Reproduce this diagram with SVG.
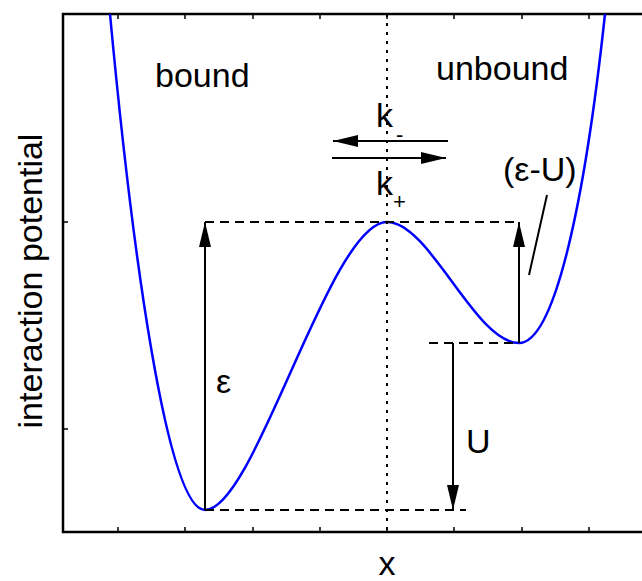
<svg xmlns="http://www.w3.org/2000/svg" width="642" height="581" viewBox="0 0 642 581">
<style>
  .t{font-family:"Liberation Sans",Arial,sans-serif;font-size:34px;fill:#000}
  .s{font-family:"Liberation Sans",Arial,sans-serif;font-size:22px;fill:#000}
  .frame{fill:none;stroke:#000;stroke-width:2.5}
  .tick{stroke:#000;stroke-width:1.5}
  .dash{stroke:#000;stroke-width:2;stroke-dasharray:9,6;fill:none}
  .dot{stroke:#000;stroke-width:2;stroke-dasharray:3,6;fill:none}
  .arr{stroke:#000;stroke-width:2;fill:none}
  .curve{stroke:#0000ff;stroke-width:2.5;fill:none}
</style>
<defs>
  <marker id="ah" viewBox="0 0 25 12" refX="25" refY="6" markerWidth="25" markerHeight="12" markerUnits="userSpaceOnUse" orient="auto">
    <path d="M0,0 L25,6 L0,12 Z" fill="#000"/>
  </marker>
</defs>
<rect width="642" height="581" fill="#fff"/>
<g id="axes">
  <path class="frame" d="M645,14 H63 V532 H645"/>
  <g class="tick">
    <path d="M118,532 v-5 M185,532 v-5 M253,532 v-5 M320,532 v-5 M387,532 v-5 M454,532 v-5 M522,532 v-5 M589,532 v-5"/>
    <path d="M118,14 v5 M185,14 v5 M253,14 v5 M320,14 v5 M387,14 v5 M454,14 v5 M522,14 v5 M589,14 v5"/>
    <path d="M63,222 h5 M63,429 h5"/>
  </g>
  <text class="t" x="387" y="575" text-anchor="middle">x</text>
  <text class="t" transform="translate(42,281) rotate(-90)" text-anchor="middle">interaction potential</text>
</g>
<g id="potential">
  <path class="curve" d="M110,14 C132,250 167,510 205,510 C255,510 330,222 387,222 C430,222 475,343 519,343 C555,343 585,200 605,14"/>
</g>
<g id="connectors">
  <path class="dot" d="M387,14 V532"/>
  <path class="dash" d="M205,222 H519"/>
  <path class="dash" d="M429,343 H519"/>
  <path class="dash" d="M205,510 H466"/>
  <path class="arr" d="M205,510 V222" marker-end="url(#ah)"/>
  <path class="arr" d="M519,343 V222" marker-end="url(#ah)"/>
  <path class="arr" d="M453,343 V510" marker-end="url(#ah)"/>
  <path class="arr" d="M448,141 H333" marker-end="url(#ah)"/>
  <path class="arr" d="M332,158 H446" marker-end="url(#ah)"/>
  <path class="arr" d="M547,195 L529,275"/>
</g>
<g id="labels">
  <text class="t" x="155" y="87">bound</text>
  <text class="t" x="436" y="80">unbound</text>
  <text class="t" x="216" y="393">ε</text>
  <text class="t" x="466" y="453">U</text>
  <text class="t" x="503" y="181">(ε-U)</text>
  <text class="t" x="376" y="127">k</text>
  <text class="s" x="396" y="142">-</text>
  <text class="t" x="376" y="195">k</text>
  <text class="s" x="393" y="209">+</text>
</g>
</svg>
